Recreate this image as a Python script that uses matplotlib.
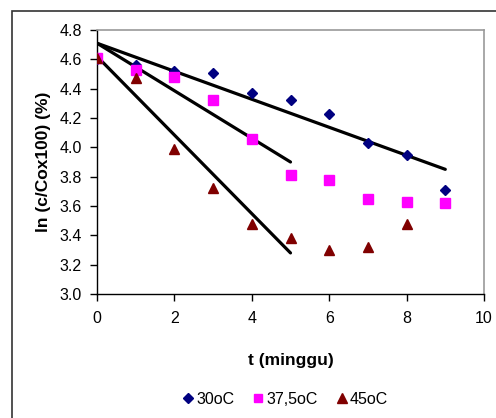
import matplotlib.pyplot as plt
from matplotlib.patches import Rectangle

plt.rcParams['font.family'] = ['Liberation Sans', 'DejaVu Sans']

# measured points
t = [0, 1, 2, 3, 4, 5, 6, 7, 8, 9]
ln_30 = [4.60, 4.56, 4.52, 4.51, 4.37, 4.32, 4.23, 4.03, 3.95, 3.71]
ln_375 = [4.61, 4.53, 4.48, 4.32, 4.06, 3.81, 3.78, 3.65, 3.63, 3.62]
t_45 = [0, 1, 2, 3, 4, 5, 6, 7, 8]
ln_45 = [4.61, 4.47, 3.99, 3.72, 3.48, 3.38, 3.30, 3.32, 3.48]

# trend lines (end points)
trend30_t = [0, 9]
trend30_y = [4.71, 3.85]
trend375_t = [0, 5]
trend375_y = [4.71, 3.90]
trend45_t = [0, 5]
trend45_y = [4.62, 3.28]

fig = plt.figure(figsize=(4.96, 4.18), dpi=100)

# outer chart frame
fig.patches.append(Rectangle((12 / 496, -0.1), 1.2, 1 - 10.5 / 418 + 0.1,
                             transform=fig.transFigure, fill=False,
                             edgecolor='#333333', linewidth=1.2))

ax = fig.add_axes([97 / 496, 1 - 294 / 418, 387 / 496, 264 / 418])

ax.plot(trend30_t, trend30_y, color='black', lw=2.3, solid_capstyle='round', zorder=2)
ax.plot(trend375_t, trend375_y, color='black', lw=2.3, solid_capstyle='round', zorder=2)
ax.plot(trend45_t, trend45_y, color='black', lw=2.3, solid_capstyle='round', zorder=2)

ax.plot(t, ln_30, 'D', color='#000080', markersize=5.5, linestyle='none', label='30oC', zorder=3)
ax.plot(t, ln_375, 's', color='#FF00FF', markersize=7, linestyle='none', label='37,5oC', zorder=3)
ax.plot(t_45, ln_45, '^', color='#800000', markersize=7.5, linestyle='none', label='45oC', zorder=4)

ax.set_xlim(0, 10)
ax.set_ylim(3.0, 4.8)
ax.set_xticks([0, 2, 4, 6, 8, 10])
ax.set_yticks([3.0, 3.2, 3.4, 3.6, 3.8, 4.0, 4.2, 4.4, 4.6, 4.8])
ax.set_yticklabels(['%.1f' % v for v in ax.get_yticks()])
ax.tick_params(direction='out', length=5, width=1, labelsize=11.5, colors='black')
ax.tick_params(axis='y', pad=6)
ax.tick_params(axis='x', pad=7)

for side in ['left', 'bottom']:
    ax.spines[side].set_color('black')
    ax.spines[side].set_linewidth(1)
for side in ['top', 'right']:
    ax.spines[side].set_color('#999999')
    ax.spines[side].set_linewidth(1.2)

ax.set_xlabel('t (minggu)', fontsize=12.5, fontweight='bold', labelpad=20)
ax.set_ylabel('ln (c/Cox100) (%)', fontsize=12.5, fontweight='bold', labelpad=6)

fig.legend(loc='center', bbox_to_anchor=(0.573, 1 - 399 / 418), ncol=3, frameon=False,
           fontsize=11.5, handletextpad=0.0, columnspacing=1.0, handlelength=1.0,
           markerscale=0.9)

fig.savefig('out.png', dpi=100)
